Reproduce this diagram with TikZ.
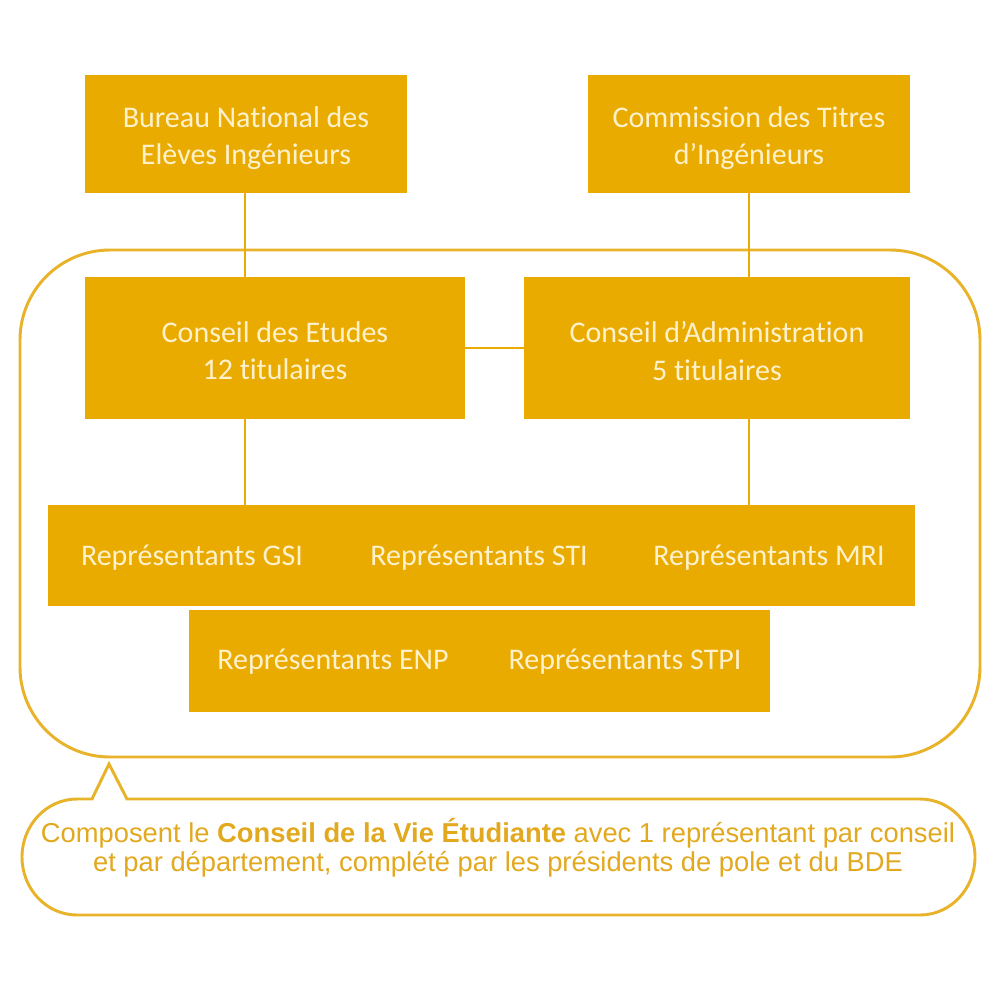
\documentclass[tikz,border=0pt]{standalone}
\usepackage{fontspec}
\setmainfont{Carlito}[RawFeature=-liga]
\newfontfamily\arialf{Liberation Sans}
\definecolor{boxfill}{HTML}{E9AB00}
\definecolor{boxtext}{HTML}{FFF1CC}
\definecolor{lineor}{HTML}{E8B229}
\definecolor{calltext}{HTML}{E2A81E}
\begin{document}
\begin{tikzpicture}[x=0.75pt,y=-0.75pt,
  orgbox/.style={fill=boxfill,draw=none,inner sep=0pt},
  boxlabel/.style={text=boxtext,font=\fontsize{22.5}{27.8}\selectfont,align=center,inner sep=0pt},
  link/.style={draw=boxfill,line width=1.5pt},
  outline/.style={draw=lineor,line width=2.2pt}]
\useasboundingbox (0,0) rectangle (1000,1000);
% big rounded group
\draw[outline,rounded corners=90*0.75pt] (20,250) rectangle (980,757);
% boxes
\fill[boxfill] (85,75) rectangle (407,193);
\node[boxlabel] (bnei) at (246,138) {Bureau National des\\Elèves Ingénieurs};
\fill[boxfill] (588,75) rectangle (910,193);
\node[boxlabel] (cti) at (749,138) {Commission des Titres\\d’Ingénieurs};
\fill[boxfill] (85,277) rectangle (465,419);
\node[boxlabel] (ce) at (275,351) {Conseil des Etudes\\12 titulaires};
\fill[boxfill] (524,277) rectangle (910,419);
\node[boxlabel] (ca) at (717,351) {Conseil d’Administration\\5 titulaires};
\fill[boxfill] (48,505) rectangle (915,606);
\node[boxlabel] (gsi) at (192,558) {Représentants GSI};
\node[boxlabel] (sti) at (479,558) {Représentants STI};
\node[boxlabel] (mri) at (769,558) {Représentants MRI};
\fill[boxfill] (189,610) rectangle (770,712);
\node[boxlabel] (enp) at (333,662) {Représentants ENP};
\node[boxlabel] (stpi) at (625,662) {Représentants STPI};
% connectors
\draw[link] (245,193) -- (245,277);
\draw[link] (749,193) -- (749,277);
\draw[link] (245,419) -- (245,505);
\draw[link] (749,419) -- (749,505);
\draw[link] (465,348) -- (524,348);
% callout
\draw[outline,line join=miter]
  (92,799) -- (109,764) -- (127,799) -- (920,799)
  arc[start angle=90,end angle=0,x radius=55,y radius=-58] -- (975,857)
  arc[start angle=0,end angle=-90,x radius=55,y radius=-58] -- (77,915)
  arc[start angle=-90,end angle=-180,x radius=55,y radius=-58] -- (22,857)
  arc[start angle=180,end angle=90,x radius=55,y radius=-58] -- cycle;
\node[text=calltext,font=\arialf\fontsize{20.5}{21.9}\selectfont,align=center,inner sep=0pt] (cvet) at (498,848)
  {Composent le \textbf{Conseil de la Vie Étudiante} avec 1 représentant par conseil\\et par département, complété par les présidents de pole et du BDE};
\end{tikzpicture}
\end{document}
